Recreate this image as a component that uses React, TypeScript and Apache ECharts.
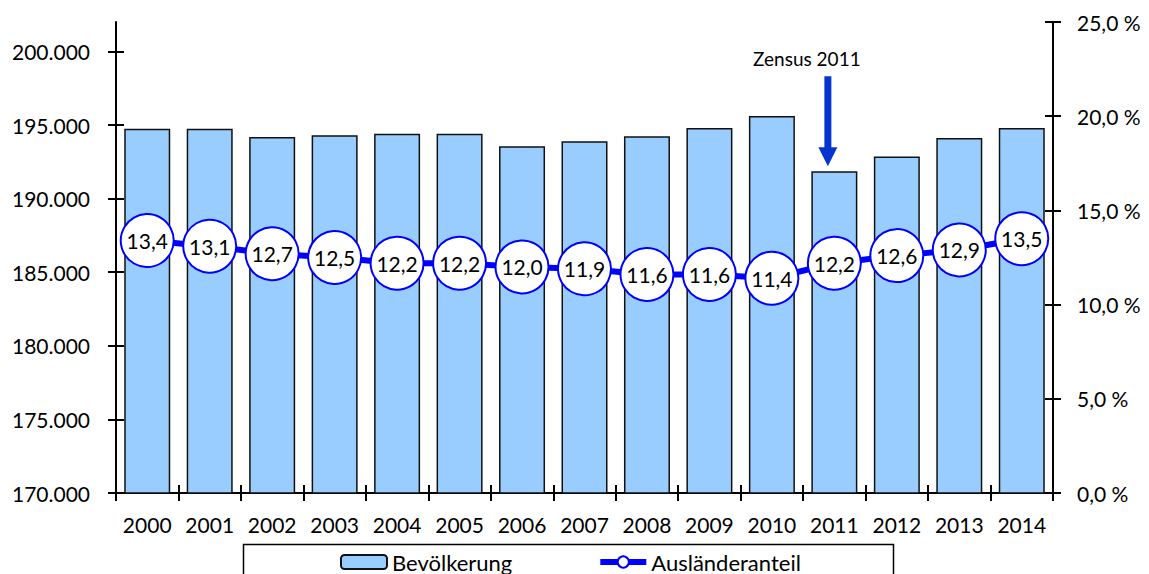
import React, { useEffect, useRef } from "react";
import * as echarts from "echarts";

const years = ["2000", "2001", "2002", "2003", "2004", "2005", "2006", "2007", "2008", "2009", "2010", "2011", "2012", "2013", "2014"];
const population = [194750, 194750, 194190, 194300, 194410, 194400, 193550, 193890, 194230, 194790, 195610, 191860, 192870, 194120, 194790];
const foreignShare = [13.4, 13.1, 12.7, 12.5, 12.2, 12.2, 12.0, 11.9, 11.6, 11.6, 11.4, 12.2, 12.6, 12.9, 13.5];
const leftTicks = [170000, 175000, 180000, 185000, 190000, 195000, 200000];
const rightTicks = [0, 5, 10, 15, 20, 25];
const censusYear = "2011";
const censusLabel = "Zensus 2011";
const barName = "Bevölkerung";
const lineName = "Ausländeranteil";

const FONT = "Lato, 'Open Sans', sans-serif";

const fmtThousands = (v: number) => String(v).replace(/\B(?=(\d{3})+(?!\d))/g, ".");
const fmtPct = (v: number) => v.toFixed(1).replace(".", ",") + " %";
const fmtDec = (v: number) => v.toFixed(1).replace(".", ",");

export default function App() {
  const ref = useRef<HTMLDivElement>(null);
  useEffect(() => {
    if (!ref.current) return;
    const chart = echarts.init(ref.current, undefined, { renderer: "svg" });
    const axisLineStyle = { color: "#000", width: 2 };
    const tickOut = { show: true, inside: false, length: 8, lineStyle: axisLineStyle };
    const tickIn = { show: true, inside: true, length: 8, lineStyle: axisLineStyle };
    const option: any = {
      animation: false,
      textStyle: { fontFamily: FONT },
      grid: { left: 116, right: 96, top: 22, bottom: 81, containLabel: false },
      legend: {
        left: 340,
        top: 551,
        padding: 0,
        itemWidth: 46,
        itemHeight: 14,
        itemGap: 85,
        selectedMode: false,
        textStyle: { fontSize: 22, lineHeight: 20, color: "#000", fontFamily: FONT },
        data: [
          { name: barName },
          { name: lineName, lineStyle: { width: 6, color: "#0000FF" } },
        ],
      },
      xAxis: [
        {
          type: "category",
          data: years,
          position: "bottom",
          boundaryGap: true,
          axisLine: { show: true, lineStyle: axisLineStyle },
          axisTick: { ...tickOut, alignWithLabel: false, interval: 0 },
          axisLabel: { interval: 0, fontSize: 21, color: "#000", margin: 21, fontFamily: FONT },
          splitLine: { show: false },
        },
        {
          type: "category",
          data: years,
          position: "bottom",
          boundaryGap: true,
          axisLine: { show: false },
          axisTick: { ...tickIn, alignWithLabel: false, interval: 0 },
          axisLabel: { show: false },
          splitLine: { show: false },
        },
      ],
      yAxis: [
        {
          type: "value",
          position: "left",
          min: 170000,
          max: 202000,
          interval: 5000,
          axisLine: { show: true, lineStyle: axisLineStyle },
          axisTick: { ...tickOut, customValues: leftTicks },
          axisLabel: {
            customValues: leftTicks,
            formatter: (v: number) => fmtThousands(v),
            fontSize: 21,
            color: "#000",
            margin: 26,
            fontFamily: FONT,
          },
          splitLine: { show: false },
        },
        {
          type: "value",
          position: "right",
          min: 0,
          max: 25,
          interval: 5,
          axisLine: { show: true, lineStyle: axisLineStyle },
          axisTick: { ...tickOut, customValues: rightTicks },
          axisLabel: {
            customValues: rightTicks,
            formatter: (v: number) => fmtPct(v),
            fontSize: 21,
            color: "#000",
            margin: 24,
            fontFamily: FONT,
          },
          splitLine: { show: false },
        },
        {
          type: "value",
          position: "left",
          min: 170000,
          max: 202000,
          interval: 5000,
          axisLine: { show: false },
          axisTick: { ...tickIn, customValues: leftTicks },
          axisLabel: { show: false },
          splitLine: { show: false },
        },
        {
          type: "value",
          position: "right",
          min: 0,
          max: 25,
          interval: 5,
          axisLine: { show: false },
          axisTick: { ...tickIn, customValues: rightTicks },
          axisLabel: { show: false },
          splitLine: { show: false },
        },
      ],
      series: [
        {
          name: barName,
          type: "bar",
          xAxisIndex: 0,
          yAxisIndex: 0,
          data: population,
          barWidth: 46,
          itemStyle: { color: "#99CCFF", borderColor: "#111", borderWidth: 1.5 },
          z: 2,
        },
        {
          name: lineName,
          type: "line",
          xAxisIndex: 0,
          yAxisIndex: 1,
          data: foreignShare,
          symbol: "circle",
          symbolSize: 53,
          showSymbol: true,
          showAllSymbol: true,
          lineStyle: { color: "#0000FF", width: 6 },
          itemStyle: { color: "#FFFFFF", borderColor: "#0000FF", borderWidth: 2 },
          label: {
            show: true,
            position: "inside",
            formatter: (p: any) => fmtDec(p.value),
            fontSize: 21,
            color: "#000",
            fontFamily: FONT,
          },
          z: 5,
        },
      ],
    };
    chart.setOption(option);

    const idx = years.indexOf(censusYear);
    const p = chart.convertToPixel({ xAxisIndex: 0, yAxisIndex: 0 }, [censusYear, population[idx]]) as number[];
    const ax = p[0] - 6.5;
    const top = p[1];
    chart.setOption({
      graphic: [
        {
          type: "rect",
          silent: true,
          shape: { x: 243.5, y: 544.5, width: 650, height: 60 },
          style: { fill: "none", stroke: "#000", lineWidth: 1.5 },
        },
        {
          type: "text",
          silent: true,
          x: ax - 21,
          y: top - 113,
          style: {
            text: censusLabel,
            fill: "#000",
            font: `19px ${FONT}`,
            textAlign: "center",
            textVerticalAlign: "middle",
          },
        },
        {
          type: "rect",
          silent: true,
          shape: { x: ax - 3.5, y: top - 95, width: 7, height: 72 },
          style: { fill: "#0534CF" },
        },
        {
          type: "polygon",
          silent: true,
          shape: {
            points: [
              [ax - 9.5, top - 24],
              [ax + 9.5, top - 24],
              [ax, top - 5],
            ],
          },
          style: { fill: "#0534CF" },
        },
      ],
    });
    return () => chart.dispose();
  }, []);
  return (
    <div
      ref={ref}
      style={{ position: "fixed", left: 0, top: 0, width: 1149, height: 574, background: "#fff" }}
    />
  );
}
